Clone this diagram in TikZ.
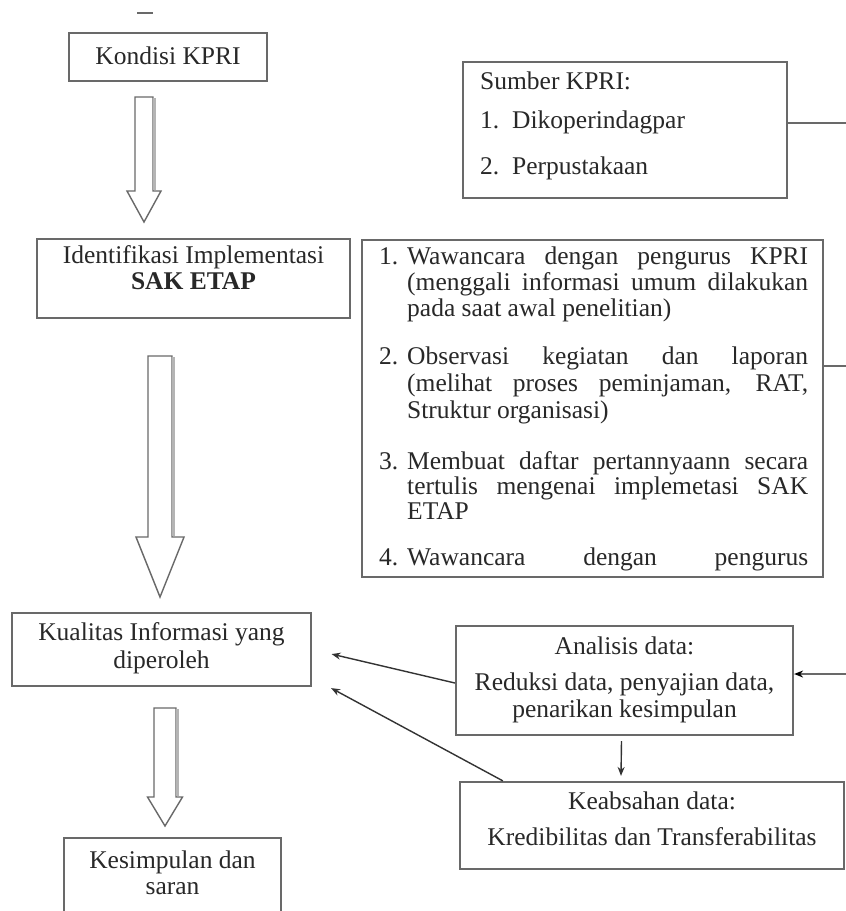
\documentclass[tikz,border=0pt]{standalone}
\usepackage{fontspec}
\setmainfont{Liberation Serif}
\usetikzlibrary{calc,arrows.meta}
\definecolor{txtgray}{RGB}{40,40,40}
\definecolor{boxgray}{RGB}{105,105,105}
\definecolor{shadegray}{RGB}{180,180,180}
\newcommand{\hollowarrow}[6]{%
  \draw[harrow] (#1-#5,#2) -- (#1+#5,#2) -- (#1+#5,#3) -- (#1+#6,#3) -- (#1,#4)
    -- (#1-#6,#3) -- (#1-#5,#3) -- cycle;
  \draw[shadegray, line width=2.2pt] (#1+#5+1.4,#2+1) -- (#1+#5+1.4,#3-1);}
\begin{document}
\begin{tikzpicture}[x=1pt,y=-1pt,
  box/.style={draw=boxgray, line width=2.2pt, fill=none, inner sep=0pt},
  txt/.style={font=\fontsize{25.5}{26}\selectfont, text=txtgray, inner sep=0pt, anchor=base},
  ltxt/.style={txt, anchor=base west},
  harrow/.style={draw=boxgray, line width=1.4pt, line join=miter},
  conn/.style={draw=black!80, line width=1.4pt, -{Stealth[length=9pt,width=7pt]}},
  edge line/.style={draw=boxgray, line width=1.8pt}]
\clip (0,0) rectangle (846,911);
\fill[white] (0,0) rectangle (846,911);

% stray dash at top
\draw[boxgray, line width=1.6pt] (137,13) -- (153,13);

% left column boxes
\node[box, minimum width=198pt, minimum height=48pt] (kondisi) at (168,57) {};
\node[txt] (kondisitxt) at (168,64) {Kondisi KPRI};

\node[box, minimum width=313pt, minimum height=79pt] (ident) at (193.5,278.5) {};
\node[txt] (identa) at (193.5,263) {Identifikasi Implementasi};
\node[txt, font=\fontsize{25.5}{26}\selectfont\bfseries] (identb) at (193.5,289) {SAK ETAP};

\node[box, minimum width=299pt, minimum height=73pt] (kualitas) at (161.5,649.5) {};
\node[txt] (kualitasa) at (161.5,640) {Kualitas Informasi yang};
\node[txt] (kualitasb) at (161.5,668) {diperoleh};

\node[box, minimum width=217pt, minimum height=92pt] (kesimpulan) at (172.5,884) {};
\node[txt] (kesimpulana) at (172.5,868) {Kesimpulan dan};
\node[txt] (kesimpulanb) at (172.5,894) {saran};

% hollow block arrows
\hollowarrow{144}{97}{191}{222}{9}{17}
\hollowarrow{160}{356}{537}{597}{12}{24}
\hollowarrow{165}{708}{797}{826}{11}{17.5}

% Sumber box
\node[box, minimum width=324pt, minimum height=136pt] (sumber) at (625,130) {};
\node[ltxt] (sumber0) at (480,89) {Sumber KPRI:};
\node[ltxt] (sumber1n) at (480,128) {1.};
\node[ltxt] (sumber1) at (512,128) {Dikoperindagpar};
\node[ltxt] (sumber2n) at (480,174) {2.};
\node[ltxt] (sumber2) at (512,174) {Perpustakaan};

% Metode box
\node[box, minimum width=461pt, minimum height=337pt] (metode) at (592.5,408.5) {};
\node[ltxt] (m1n) at (379,264) {1.};
\node[ltxt] (m1a) at (407,264) {\makebox[401pt][s]{Wawancara dengan pengurus KPRI}};
\node[ltxt] (m1b) at (407,290) {\makebox[401pt][s]{(menggali informasi umum dilakukan}};
\node[ltxt] (m1c) at (407,316) {pada saat awal penelitian)};
\node[ltxt] (m2n) at (379,364) {2.};
\node[ltxt] (m2a) at (407,364) {\makebox[401pt][s]{Observasi kegiatan dan laporan}};
\node[ltxt] (m2b) at (407,391) {\makebox[401pt][s]{(melihat proses peminjaman, RAT,}};
\node[ltxt] (m2c) at (407,418) {Struktur organisasi)};
\node[ltxt] (m3n) at (379,469) {3.};
\node[ltxt] (m3a) at (407,469) {\makebox[401pt][s]{Membuat daftar pertannyaann secara}};
\node[ltxt] (m3b) at (407,494) {\makebox[401pt][s]{tertulis mengenai implemetasi SAK}};
\node[ltxt] (m3c) at (407,519) {ETAP};
\node[ltxt] (m4n) at (379,565) {4.};
\node[ltxt] (m4a) at (407,565) {\makebox[401pt][s]{Wawancara dengan pengurus}};

% Analisis box
\node[box, minimum width=337pt, minimum height=109pt] (analisis) at (624.5,680.5) {};
\node[txt] (analisisa) at (624.5,654) {Analisis data:};
\node[txt] (analisisb) at (624.5,690) {Reduksi data, penyajian data,};
\node[txt] (analisisc) at (624.5,717) {penarikan kesimpulan};

% Keabsahan box
\node[box, minimum width=384pt, minimum height=87pt] (keabsahan) at (652,825.5) {};
\node[txt] (keabsahana) at (652,809) {Keabsahan data:};
\node[txt] (keabsahanb) at (652,845) {Kredibilitas dan Transferabilitas};

% right-edge connections
\coordinate (e1) at (846,123);
\coordinate (e2) at (846,366);
\coordinate (e3) at (846,674);
\draw[edge line] (e1 -| sumber.east) -- (e1);
\draw[edge line] (e2 -| metode.east) -- (e2);
\draw[conn, draw=boxgray, -{Stealth[length=9pt,width=7pt,color=black]}] (e3) -- (e3 -| analisis.east);

% arrows to Kualitas
\draw[conn, shorten >=20pt] ($(analisis.west)+(0,2.5)$) -- (kualitas.east);
\draw[conn] ($(keabsahan.north west)+(44,0)$) -- ($(kualitas.south east)+(19,1)$);
\draw[conn] ($(analisis.south)+(-3,5)$) -- ($(keabsahan.north)+(-31,-5)$);
\end{tikzpicture}
\end{document}
